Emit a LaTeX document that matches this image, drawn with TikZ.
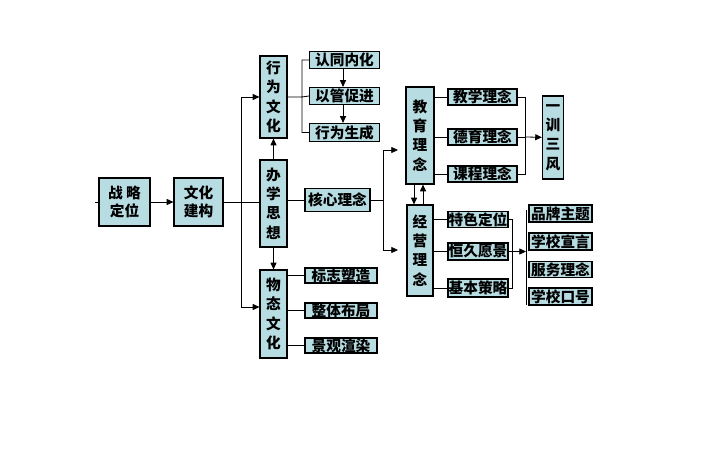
\documentclass[tikz,border=0pt]{standalone}
\usepackage{fontspec}
\newfontfamily\cjk{Noto Sans CJK SC}
\usetikzlibrary{arrows.meta}
\definecolor{kuang}{RGB}{183,221,227}
\tikzset{
  hezi/.style={draw, fill=kuang, line width=.9pt, inner sep=0pt, align=center,
    font=\cjk\bfseries\fontsize{11}{14}\selectfont},
  shu/.style={hezi, font=\cjk\bfseries\fontsize{11}{14.5}\selectfont},
  wh/.style 2 args={minimum width=#1*.75pt, minimum height=#2*.75pt},
}
\begin{document}
\begin{tikzpicture}[x=.75pt, y=-.75pt, >={Triangle[length=5pt,width=4.5pt]}, line width=.6pt]
    \useasboundingbox (0,0) rectangle (720,450);
    % cot trai
    \node[hezi, wh={51}{48}] (zlue) at (124.5,202) {战 略\\定位};
    \node[hezi, wh={49}{48}] (jiangou) at (198.5,202) {文化\\建构};
    \node[shu, wh={27}{82}] (xingwei) at (273.5,97) {行\\为\\文\\化};
    \node[shu, wh={27}{87}] (banxue) at (273.5,203.5) {办\\学\\思\\想};
    \node[shu, wh={27}{88}] (wutai) at (273.5,314) {物\\态\\文\\化};
    \node[hezi, wh={70}{17}] (rentong) at (344.5,60) {认同内化};
    \node[hezi, wh={70}{17}] (yiguan) at (344.5,96) {以管促进};
    \node[hezi, wh={70}{18}] (shengcheng) at (344.5,132.5) {行为生成};
    \node[hezi, wh={65}{23}] (hexin) at (337.5,200) {核心理念};
    \node[hezi, wh={72}{15}] (biaozhi) at (341,275.5) {标志塑造};
    \node[hezi, wh={72}{15}] (zhengti) at (341,310.5) {整体布局};
    \node[hezi, wh={72}{15}] (jingguan) at (341,345.5) {景观渲染};
    % cot phai
    \node[shu, wh={28}{97}] (jiaoyu) at (420,135.5) {教\\育\\理\\念};
    \node[hezi, wh={69}{16}] (jiaoxue) at (482.5,97) {教学理念};
    \node[hezi, wh={69}{16}] (deyu) at (482.5,137) {德育理念};
    \node[hezi, wh={69}{16}] (kecheng) at (482.5,174) {课程理念};
    \node[shu, wh={21}{83}] (yixun) at (553,137.5) {一\\训\\三\\风};
    \node[shu, wh={26}{91}] (jingying) at (420,250.5) {经\\营\\理\\念};
    \node[hezi, wh={60}{16}] (tese) at (478,219.5) {特色定位};
    \node[hezi, wh={60}{17}] (hengjiu) at (478,251.5) {恒久愿景};
    \node[hezi, wh={60}{18}] (jiben) at (478,288) {基本策略};
    \node[hezi, wh={63}{17}] (pinpai) at (560.5,213.5) {品牌主题};
    \node[hezi, wh={63}{17}] (xuanyan) at (560.5,241.5) {学校宣言};
    \node[hezi, wh={63}{16}] (fuwu) at (560.5,269.5) {服务理念};
    \node[hezi, wh={63}{17}] (kouhao) at (560.5,296.5) {学校口号};
    % diem re nhanh
    \coordinate (fen) at (241,202);
    \coordinate (xw) at (302,97);
    \coordinate (hx) at (383,200);
    \coordinate (jyin) at (398,150);
    \coordinate (jyin2) at (398,250);
    \coordinate (jr) at (525,137);
    \coordinate (jyr) at (512,251.5);
    \coordinate (ptop) at (526,210);
    \coordinate (pbot) at (526,305);
    % noi
    \draw (zlue.west) -- ++(-3,0);
    \draw[->] (zlue) -- (jiangou);
    \draw (jiangou) -- (banxue.west |- jiangou);
    \draw[->] (fen) |- (xingwei.west);
    \draw[->] (fen) |- (wutai.west |- 0,307);
    \draw[->] (banxue) -- (xingwei);
    \draw[->] (banxue) -- (wutai);
    \draw (xingwei.east |- xw) -- (xw) (rentong.west) -| (xw) |- (shengcheng.west) (xw) -- (yiguan.west);
    \draw[->] (rentong.south -| 343,0) -- (yiguan.north -| 343,0);
    \draw[->] (yiguan.south -| 343,0) -- (shengcheng.north -| 343,0);
    \draw (banxue.east |- hexin) -- (hexin);
    \draw (wutai.east |- biaozhi) -- (biaozhi) (wutai.east |- zhengti) -- (zhengti) (wutai.east |- jingguan) -- (jingguan);
    \draw (hexin) -- (hx);
    \draw[->] (hx) |- (jyin);
    \draw[->] (hx) |- (jyin2);
    \draw[->] (jiaoyu.south -| 414,0) -- (jingying.north -| 414,0);
    \draw[->] (jingying.north -| 423,0) -- (jiaoyu.south -| 423,0);
    \draw (jiaoyu.east |- jiaoxue) -- (jiaoxue) (jiaoyu.east |- deyu) -- (deyu) (jiaoyu.east |- kecheng) -- (kecheng);
    \draw (jiaoxue.east) -| (jr) (kecheng.east) -| (jr) (deyu) -- (jr);
    \draw[->] (jr) -- (yixun);
    \draw (jingying.east |- tese) -- (tese) (jingying.east |- hengjiu) -- (hengjiu) (jingying.east |- jiben) -- (jiben);
    \draw (tese.east) -| (jyr) (jiben.east) -| (jyr) (hengjiu) -- (jyr);
    \draw[->] (jyr) -- (jyr -| ptop);
    \draw (ptop) -- (pbot);
\end{tikzpicture}
\end{document}
